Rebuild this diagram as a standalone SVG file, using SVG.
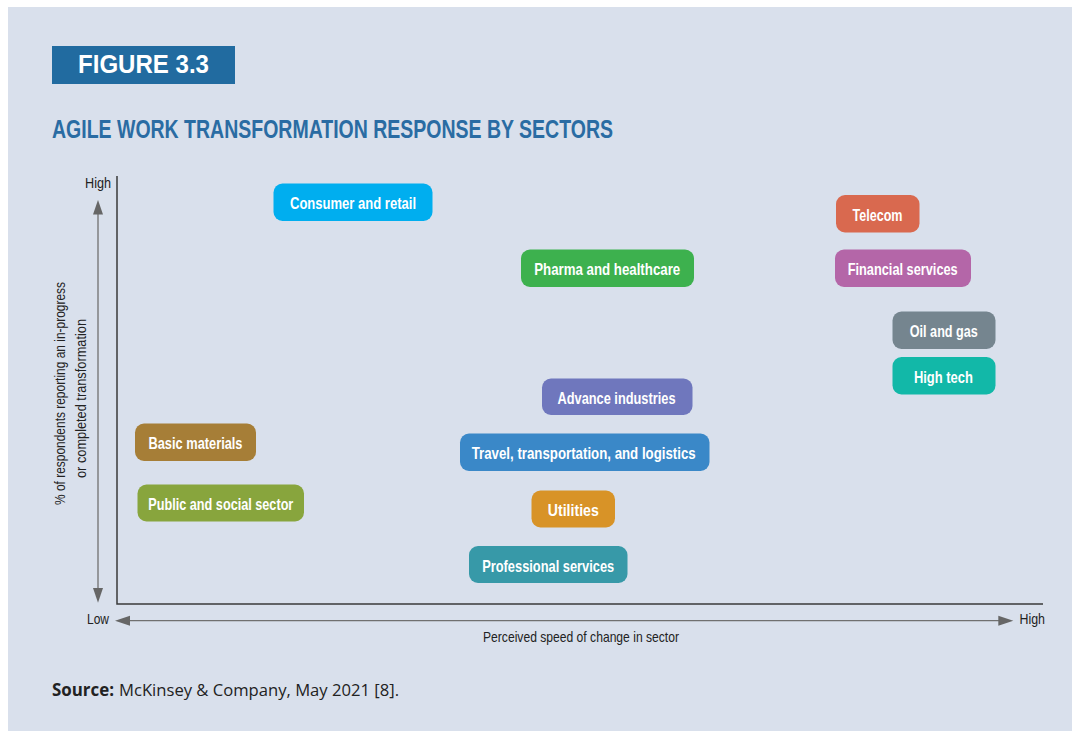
<svg xmlns="http://www.w3.org/2000/svg" width="1078" height="731" viewBox="0 0 1078 731">
<defs>
<style>
.node rect{rx:9;ry:9}
.lbl{font-family:"Liberation Sans",Arial,sans-serif;font-weight:bold;font-size:17px;fill:#ffffff;text-anchor:middle}
.ax{font-family:"Liberation Sans",Arial,sans-serif;font-size:15px;fill:#222222}
.axis{stroke:#3a3a3a;stroke-width:1.5;fill:none}
.arr{stroke:#707070;stroke-width:1.3;fill:none}
.head{fill:#666666}
</style>
</defs>
<rect x="0" y="0" width="1078" height="731" fill="#ffffff"/>
<rect x="8" y="7" width="1064" height="724" fill="#d9e0ec"/>
<g id="header">
<rect x="52" y="46" width="183" height="38" fill="#216ba0"/>
<text x="78" y="73.3" font-family="'Liberation Sans',Arial,sans-serif" font-weight="bold" font-size="25.5" fill="#ffffff" textLength="131" lengthAdjust="spacingAndGlyphs">FIGURE 3.3</text>
<text x="52" y="138.3" font-family="'Liberation Sans',Arial,sans-serif" font-weight="bold" font-size="26" fill="#2a6ca3" textLength="561" lengthAdjust="spacingAndGlyphs">AGILE WORK TRANSFORMATION RESPONSE BY SECTORS</text>
</g>
<g id="axes">
<polyline class="axis" points="117,176 117,604 1043,604"/>
<line class="arr" x1="98" y1="212" x2="98" y2="590"/>
<polygon class="head" points="98,200 93,214.5 103,214.5"/>
<polygon class="head" points="98,602.7 93,588 103,588"/>
<line class="arr" x1="128" y1="620.7" x2="1000" y2="620.7"/>
<polygon class="head" points="115,620.7 130,615.7 130,625.7"/>
<polygon class="head" points="1013.3,620.7 998.3,615.7 998.3,625.7"/>
<text class="ax" x="85" y="188.3" textLength="26" lengthAdjust="spacingAndGlyphs">High</text>
<text class="ax" x="87" y="624" textLength="22" lengthAdjust="spacingAndGlyphs">Low</text>
<text class="ax" x="1019.5" y="624" textLength="25.5" lengthAdjust="spacingAndGlyphs">High</text>
<text class="ax" x="483" y="642" textLength="196" lengthAdjust="spacingAndGlyphs">Perceived speed of change in sector</text>
<text class="ax" transform="translate(64.5,505) rotate(-90)" x="0" y="0" textLength="223" lengthAdjust="spacingAndGlyphs">% of respondents reporting an in-progress</text>
<text class="ax" transform="translate(86,478) rotate(-90)" x="0" y="0" textLength="159" lengthAdjust="spacingAndGlyphs">or completed transformation</text>
</g>
<g id="connectors"></g>
<g id="consumer" class="node"><rect x="273.5" y="183.5" width="159" height="37.5" fill="#00aeef"/><text class="lbl" x="353" y="209" textLength="126" lengthAdjust="spacingAndGlyphs">Consumer and retail</text></g>
<g id="telecom" class="node"><rect x="836" y="195" width="83.5" height="37.5" fill="#d9694f"/><text class="lbl" x="877.5" y="220.5" textLength="50" lengthAdjust="spacingAndGlyphs">Telecom</text></g>
<g id="pharma" class="node"><rect x="521" y="249.5" width="173" height="37.5" fill="#3db14e"/><text class="lbl" x="607.2" y="275" textLength="146" lengthAdjust="spacingAndGlyphs">Pharma and healthcare</text></g>
<g id="financial" class="node"><rect x="835" y="249.5" width="136" height="37.5" fill="#b466a8"/><text class="lbl" x="902.7" y="275" textLength="110" lengthAdjust="spacingAndGlyphs">Financial services</text></g>
<g id="oilgas" class="node"><rect x="892.5" y="311.5" width="103" height="37.5" fill="#75858f"/><text class="lbl" x="943.8" y="337" textLength="68" lengthAdjust="spacingAndGlyphs">Oil and gas</text></g>
<g id="hightech" class="node"><rect x="892.5" y="357" width="103" height="37.5" fill="#12b8a8"/><text class="lbl" x="943.4" y="382.5" textLength="59" lengthAdjust="spacingAndGlyphs">High tech</text></g>
<g id="advance" class="node"><rect x="542" y="378.5" width="150.5" height="36.5" fill="#6f77bd"/><text class="lbl" x="616.5" y="403.5" textLength="118" lengthAdjust="spacingAndGlyphs">Advance industries</text></g>
<g id="basic" class="node"><rect x="135" y="423.5" width="121" height="37.5" fill="#a67e37"/><text class="lbl" x="195.5" y="449" textLength="94" lengthAdjust="spacingAndGlyphs">Basic materials</text></g>
<g id="travel" class="node"><rect x="460" y="433.5" width="249.5" height="37.5" fill="#3a88c8"/><text class="lbl" x="583.7" y="459" textLength="224" lengthAdjust="spacingAndGlyphs">Travel, transportation, and logistics</text></g>
<g id="public" class="node"><rect x="137.5" y="484.5" width="166.5" height="37" fill="#88a53d"/><text class="lbl" x="220.8" y="510" textLength="145" lengthAdjust="spacingAndGlyphs">Public and social sector</text></g>
<g id="utilities" class="node"><rect x="531.5" y="490.5" width="83.5" height="37" fill="#d89327"/><text class="lbl" x="573.3" y="516" textLength="51" lengthAdjust="spacingAndGlyphs">Utilities</text></g>
<g id="professional" class="node"><rect x="469" y="546" width="158.5" height="37" fill="#3799a8"/><text class="lbl" x="548.2" y="571.5" textLength="132" lengthAdjust="spacingAndGlyphs">Professional services</text></g>
<g id="source">
<text x="52" y="696" font-family="'Open Sans','Liberation Sans',sans-serif" font-size="17" font-weight="bold" fill="#222222" textLength="62" lengthAdjust="spacingAndGlyphs">Source:</text>
<text x="119" y="696" font-family="'Open Sans','Liberation Sans',sans-serif" font-size="17" fill="#222222" textLength="280" lengthAdjust="spacingAndGlyphs">McKinsey &amp; Company, May 2021 [8].</text>
</g>
</svg>
